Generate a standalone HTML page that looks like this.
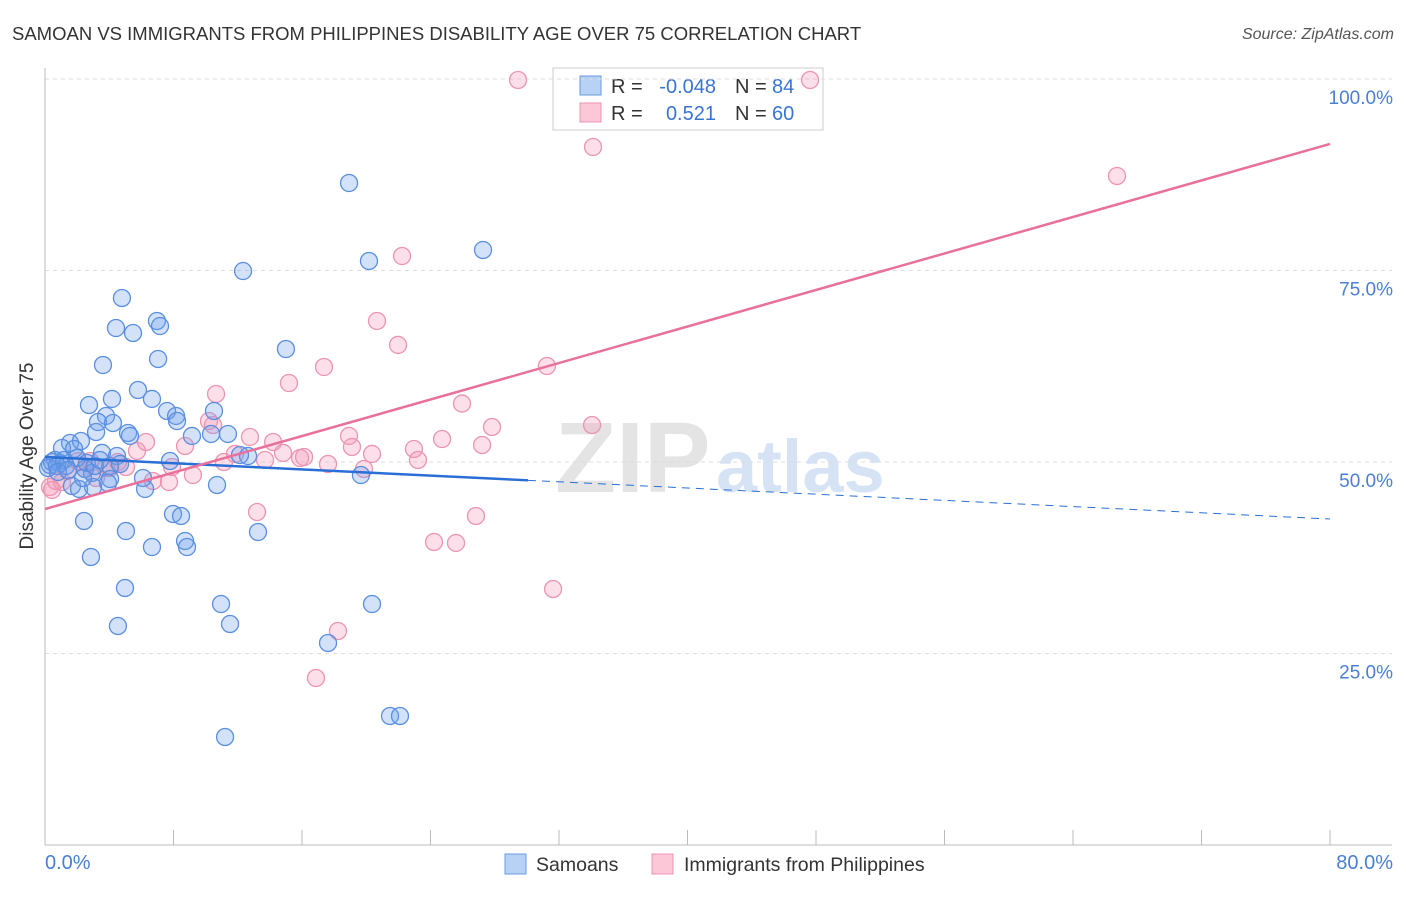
<!DOCTYPE html>
<html><head><meta charset="utf-8"><style>
body{margin:0;background:#fff;font-family:"Liberation Sans",sans-serif}
svg text{font-family:"Liberation Sans",sans-serif}
</style></head><body>
<svg id="c" width="1406" height="892" xmlns="http://www.w3.org/2000/svg">
<text x="12" y="40" font-size="18.5" fill="#333">SAMOAN VS IMMIGRANTS FROM PHILIPPINES DISABILITY AGE OVER 75 CORRELATION CHART</text>
<text x="1394" y="39" font-size="16" fill="#555" font-style="italic" text-anchor="end">Source: ZipAtlas.com</text>
<text x="555" y="492" font-size="100" fill="#e4e4e4" font-family="Liberation Serif" font-weight="bold">ZIP</text>
<text x="716" y="492" font-size="74" fill="#d6e3f5" font-weight="bold">atlas</text>
<g>
<rect x="553" y="68" width="270" height="62" fill="#fff" stroke="#ccc"/>
<rect x="580" y="76" width="21" height="19" fill="#b8d2f5" stroke="#6a9ae0"/>
<rect x="580" y="103" width="21" height="19" fill="#fcc8d8" stroke="#ea93b0"/>
<text x="611" y="93" font-size="20" fill="#333">R =</text>
<text x="716" y="93" font-size="20" fill="#3a74d2" text-anchor="end">-0.048</text>
<text x="735" y="93" font-size="20" fill="#333">N =</text>
<text x="772" y="93" font-size="20" fill="#3a74d2">84</text>
<text x="611" y="120" font-size="20" fill="#333">R =</text>
<text x="716" y="120" font-size="20" fill="#3a74d2" text-anchor="end">0.521</text>
<text x="735" y="120" font-size="20" fill="#333">N =</text>
<text x="772" y="120" font-size="20" fill="#3a74d2">60</text>
</g>
<g id="grid"></g><g id="pts"></g><g id="lines"></g>
<text transform="translate(33,456) rotate(-90)" font-size="19" fill="#333" text-anchor="middle">Disability Age Over 75</text>
<text x="45" y="869" font-size="20" fill="#4a7fd4">0.0%</text>
<text x="1393" y="869" font-size="20" fill="#4a7fd4" text-anchor="end">80.0%</text>
<g>
<rect x="505" y="854" width="21" height="20" fill="#b8d2f5" stroke="#6a9ae0"/>
<text x="536" y="871" font-size="19.5" fill="#333">Samoans</text>
<rect x="652" y="854" width="21" height="20" fill="#fcc8d8" stroke="#ea93b0"/>
<text x="684" y="871" font-size="19.5" fill="#333">Immigrants from Philippines</text>
</g>
</svg>
<script>
const yTicks=[25,50,75,100];
const yTickLabels=["25.0%","50.0%","75.0%","100.0%"];
const xTicks=[0,8,16,24,32,40,48,56,64,72,80];
const blueX=[18.93,27.27,20.17,12.33,4.79,6.97,7.16,4.42,5.48,15.00,3.61,7.04,5.79,4.17,2.74,6.66,10.52,7.60,8.16,8.22,3.80,3.30,4.23,5.17,5.29,9.15,10.34,11.39,3.18,1.56,2.24,1.06,1.81,3.55,4.48,12.64,7.78,0.62,0.93,1.31,2.49,4.05,4.67,2.93,6.10,4.05,3.92,1.68,2.99,2.12,6.23,10.71,19.67,7.97,8.47,2.43,5.04,13.26,6.66,8.72,8.84,2.86,4.98,10.96,20.36,4.54,11.52,17.62,21.48,22.10,11.21,0.31,0.44,0.19,0.75,1.18,1.99,2.61,3.11,0.81,1.43,3.42,2.37,12.14];
const blueY=[86.42,77.68,76.24,74.93,71.41,68.41,67.75,67.49,66.84,64.75,62.66,63.45,59.40,58.23,57.44,58.23,56.66,56.66,56.01,55.35,56.01,55.22,55.09,53.79,53.40,53.40,53.66,53.66,53.92,52.48,52.74,51.83,51.70,51.18,50.78,50.78,50.13,50.26,49.87,49.48,49.09,49.48,49.74,48.57,47.91,47.78,47.26,46.87,46.74,46.48,46.48,47.00,48.30,43.21,42.95,42.30,40.99,40.86,38.90,39.69,38.90,37.60,33.55,31.46,31.46,28.59,28.85,26.37,16.84,16.84,14.10,49.61,50.00,49.22,49.48,50.26,50.52,49.87,49.48,48.70,48.96,50.26,47.91,50.91];
const pinkX=[29.45,47.63,34.12,66.74,22.23,20.67,21.98,15.19,17.37,31.25,10.65,25.96,34.06,27.83,10.21,10.46,18.93,12.76,8.72,6.29,14.20,11.83,14.82,24.72,22.97,19.11,20.36,27.21,5.73,15.88,16.13,11.14,13.70,17.62,23.22,19.86,4.54,5.04,7.91,9.21,6.72,7.72,3.80,2.05,2.49,0.68,1.06,0.31,1.43,3.18,13.20,26.83,24.22,25.59,31.63,18.24,16.87,4.05,2.80,0.44];
const pinkY=[99.87,99.87,91.12,87.34,76.89,68.41,65.28,60.31,62.40,62.53,58.88,57.63,54.83,54.57,55.35,54.83,53.40,53.26,52.09,52.61,52.61,51.05,51.18,53.00,51.70,51.96,51.05,52.22,51.44,50.52,50.65,50.00,50.26,49.74,50.26,49.09,50.00,49.35,49.35,48.30,47.52,47.39,49.22,50.13,49.09,47.52,47.39,46.74,48.83,47.91,43.47,42.95,39.56,39.43,33.42,27.94,21.80,49.22,50.13,46.35];
const blueTrend=[50.65,42.56];
const pinkTrend=[43.86,91.52];
const blueSolidEnd=30.07;

const NS="http://www.w3.org/2000/svg";
const X0=45,X1=1330,Y0=845,Y100=79;
const sx=v=>X0+(v/80)*(X1-X0);
const sy=v=>Y0-(v/100)*(Y0-Y100);
function mk(t,a,p){const e=document.createElementNS(NS,t);for(const k in a)e.setAttribute(k,a[k]);p.appendChild(e);return e;}
const grid=document.getElementById('grid');
yTicks.forEach((t,i)=>{
  const l=mk('line',{x1:X0,x2:1392,y1:sy(t),y2:sy(t),stroke:'#ddd','stroke-dasharray':'4,4'},grid);
  
  
  const tx=mk('text',{x:1393,y:sy(t)+25,'font-size':19,fill:'#4a7fd4','text-anchor':'end'},grid);
  tx.textContent=yTickLabels[i];
  
  
});
const ax=mk('line',{x1:X0,x2:X0,y1:68,y2:Y0,stroke:'#bbb'},grid);


const bx=mk('line',{x1:X0,x2:1392,y1:Y0,y2:Y0,stroke:'#bbb'},grid);


xTicks.forEach(t=>{
  const l=mk('line',{x1:sx(t),x2:sx(t),y1:Y0-15,y2:Y0,stroke:'#bbb'},grid);
  
  
});
const pts=document.getElementById('pts');
pinkX.forEach((v,i)=>{
  const c=mk('circle',{cx:sx(v),cy:sy(pinkY[i]),r:8.5,fill:'rgba(245,150,180,0.3)',stroke:'#eb95b2','stroke-width':1.3},pts);
  
  
});
blueX.forEach((v,i)=>{
  const c=mk('circle',{cx:sx(v),cy:sy(blueY[i]),r:8.5,fill:'rgba(110,160,235,0.3)',stroke:'#5a8fe0','stroke-width':1.3},pts);
  
  
});
const lines=document.getElementById('lines');
const by=x=>blueTrend[0]+(blueTrend[1]-blueTrend[0])*x/80;
let l1=mk('line',{x1:sx(0),y1:sy(by(0)),x2:sx(blueSolidEnd),y2:sy(by(blueSolidEnd)),stroke:'#2a6fd6','stroke-width':2.5},lines);


let l2=mk('line',{x1:sx(blueSolidEnd),y1:sy(by(blueSolidEnd)),x2:sx(80),y2:sy(by(80)),stroke:'#2a6fd6','stroke-width':1,'stroke-dasharray':'8,6'},lines);


let l3=mk('line',{x1:sx(0),y1:sy(pinkTrend[0]),x2:sx(80),y2:sy(pinkTrend[1]),stroke:'#e8709a','stroke-width':2.5},lines);


</script>
</body></html>
